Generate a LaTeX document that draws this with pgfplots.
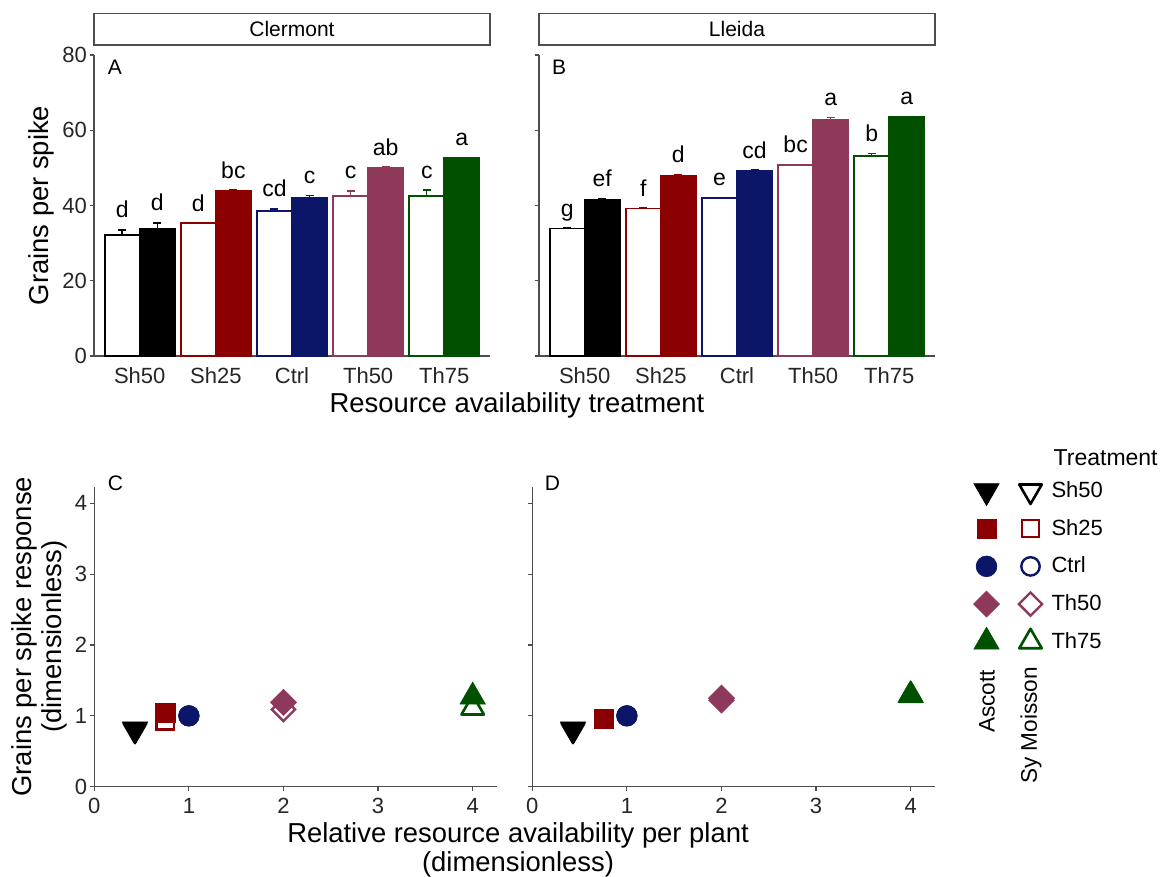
\documentclass[border=0pt]{standalone}
\usepackage{fontspec}
\setmainfont{Liberation Sans}
\usepackage{pgfplots}
\pgfplotsset{compat=1.18}

\definecolor{cSh50}{HTML}{000000}
\definecolor{cSh25}{HTML}{8B0000}
\definecolor{cCtrl}{HTML}{0B1668}
\definecolor{cTh50}{HTML}{8E385C}
\definecolor{cTh75}{HTML}{005000}
\definecolor{axgray}{HTML}{4D4D4D}

\newcommand{\obar}[4]{\addplot[ybar, bar width=0.46, draw=#2, fill=white, line width=0.9pt,
  error bars/.cd, y dir=plus, y explicit, error bar style={#2, line width=0.7pt},
  error mark options={rotate=90, #2, mark size=2pt, line width=0.7pt}] coordinates {(#1,#3) +- (0,#4)};}
\newcommand{\fbar}[4]{\addplot[ybar, bar width=0.46, draw=#2, fill=#2, line width=0.9pt,
  error bars/.cd, y dir=plus, y explicit, error bar style={#2, line width=0.7pt},
  error mark options={rotate=90, #2, mark size=2pt, line width=0.7pt}] coordinates {(#1,#3) +- (0,#4)};}

\pgfplotsset{
  base/.style={scale only axis, anchor=south west, axis x line*=bottom, axis y line*=left,
    axis line style={axgray, line width=0.75pt}, tick style={axgray, line width=0.6pt},
    tick align=outside, major tick length=2.2pt,
    ticklabel style={font=\fontsize{11}{13}\selectfont, text=black!85},
    yticklabel style={xshift=2.2pt},
    /pgf/number format/assume math mode=true, clip=false},
  barax/.style={base, width=198pt, height=150.5pt, xmin=-0.6, xmax=4.6, ymin=0, ymax=80,
    ytick={0,20,40,60,80}, xtick={0,1,2,3,4}, xticklabels={Sh50,Sh25,Ctrl,Th50,Th75},
    xtick style={draw=none}},
  scax/.style={base, width=201.2pt, height=150pt, xmin=0, xmax=4.254, ymin=0, ymax=4.234,
    xtick={0,1,2,3,4}, ytick={0,1,2,3,4}},
  letters/.style={only marks, mark=*, mark size=0pt, mark options={draw=none, fill=none},
    nodes near coords, point meta=explicit symbolic,
    every node near coord/.append style={anchor=base, yshift=6pt, inner sep=0pt,
      font=\fontsize{11.5}{13}\selectfont, text=black}},
  legmk/.style={legend image code/.code={\path[draw=none, fill=none] (0pt,-7.5pt) rectangle (16pt,7.5pt);
      \draw[##1] plot coordinates {(7pt,0pt)};}},
  fSh50/.style={only marks, mark=triangle*, mark size=7.3pt, mark options={rotate=180, draw=cSh50, fill=cSh50, line width=0.3pt}, legmk},
  oSh50/.style={only marks, mark=triangle, mark size=6.5pt, mark options={rotate=180, draw=cSh50, line width=1.3pt, line join=round}, legmk},
  fSh25/.style={only marks, mark=square*, mark size=4.8pt, mark options={draw=cSh25, fill=cSh25, line width=0.3pt}, legmk},
  oSh25/.style={only marks, mark=square, mark size=4.3pt, mark options={draw=cSh25, line width=1.2pt}, legmk},
  fCtrl/.style={only marks, mark=*, mark size=5.2pt, mark options={draw=cCtrl, fill=cCtrl, line width=0.3pt}, legmk},
  oCtrl/.style={only marks, mark=o, mark size=4.6pt, mark options={draw=cCtrl, line width=1.2pt}, legmk},
  fTh50/.style={only marks, mark=square*, mark size=4.6pt, mark options={rotate=45, draw=cTh50, fill=cTh50, line width=0.3pt}, legmk},
  oTh50/.style={only marks, mark=square, mark size=4.1pt, mark options={rotate=45, draw=cTh50, line width=1.2pt}, legmk},
  fTh75/.style={only marks, mark=triangle*, mark size=7.3pt, mark options={draw=cTh75, fill=cTh75, line width=0.3pt}, legmk},
  oTh75/.style={only marks, mark=triangle, mark size=6.5pt, mark options={draw=cTh75, line width=1.3pt, line join=round}, legmk},
}

\begin{document}
\begin{tikzpicture}[x=1pt,y=1pt]
\useasboundingbox (0,0) rectangle (582,438.5);

% ---------- Panel A: Clermont ----------
\begin{axis}[barax, at={(47pt,260.5pt)}]
\obar{-0.23}{cSh50}{32.2}{1.3}
\fbar{0.23}{cSh50}{33.8}{1.6}
\obar{0.77}{cSh25}{35.3}{0.0}
\fbar{1.23}{cSh25}{43.9}{0.2}
\obar{1.77}{cCtrl}{38.5}{0.6}
\fbar{2.23}{cCtrl}{41.9}{0.7}
\obar{2.77}{cTh50}{42.6}{1.3}
\fbar{3.23}{cTh50}{49.9}{0.3}
\obar{3.77}{cTh75}{42.6}{1.5}
\fbar{4.23}{cTh75}{52.6}{0.2}
\addplot[letters] coordinates {(-0.23,33.5) [d] (0.23,35.4) [d] (0.77,35.3) [d] (1.23,44.1) [bc]
  (1.77,39.1) [cd] (2.23,42.6) [c] (2.77,43.9) [c] (3.23,50.2) [ab] (3.77,44.1) [c] (4.23,52.8) [a]};
\end{axis}

% ---------- Panel B: Lleida ----------
\begin{axis}[barax, at={(269.5pt,260.5pt)}, yticklabels={}]
\obar{-0.23}{cSh50}{33.9}{0.1}
\fbar{0.23}{cSh50}{41.6}{0.3}
\obar{0.77}{cSh25}{39.2}{0.1}
\fbar{1.23}{cSh25}{48.0}{0.3}
\obar{1.77}{cCtrl}{41.9}{0.2}
\fbar{2.23}{cCtrl}{49.3}{0.1}
\obar{2.77}{cTh50}{50.7}{0.2}
\fbar{3.23}{cTh50}{62.7}{0.7}
\obar{3.77}{cTh75}{53.2}{0.6}
\fbar{4.23}{cTh75}{63.5}{0.1}
\addplot[letters] coordinates {(-0.23,34.0) [g] (0.23,41.9) [ef] (0.77,39.3) [f] (1.23,48.3) [d]
  (1.77,42.1) [e] (2.23,49.4) [cd] (2.77,50.9) [bc] (3.23,63.4) [a] (3.77,53.8) [b] (4.23,63.6) [a]};
\end{axis}

% ---------- Panel C ----------
\begin{axis}[scax, at={(47.15pt,45.15pt)}]
\addplot[forget plot, fSh50] coordinates {(0.43,0.81)};
\addplot[forget plot, oSh50] coordinates {(0.43,0.80)};
\addplot[forget plot, fSh25] coordinates {(0.75,1.04)};
\addplot[forget plot, oSh25] coordinates {(0.75,0.93)};
\addplot[forget plot, fCtrl] coordinates {(1,1.00)};
\addplot[forget plot, oCtrl] coordinates {(1,1.00)};
\addplot[forget plot, fTh50] coordinates {(2,1.19)};
\addplot[forget plot, oTh50] coordinates {(2,1.09)};
\addplot[forget plot, fTh75] coordinates {(4,1.27)};
\addplot[forget plot, oTh75] coordinates {(4,1.11)};
\end{axis}

% ---------- Panel D ----------
\begin{axis}[scax, at={(266.15pt,45.15pt)}, yticklabels={},
  legend columns=2, legend cell align=left,
  legend style={at={(1.093,1.037)}, anchor=north west, draw=none, fill=none, inner sep=0pt,
    row sep=3.85pt, nodes={inner sep=1.5pt}, font=\fontsize{11}{13}\selectfont,
    /tikz/every even column/.append style={column sep=3pt}}]
\addplot[fSh50] coordinates {(0.43,0.81)}; \addlegendentry{\mbox{}}
\addplot[oSh50] coordinates {(0.43,0.80)}; \addlegendentry{Sh50}
\addplot[fSh25] coordinates {(0.76,0.96)}; \addlegendentry{\mbox{}}
\addplot[oSh25] coordinates {(0.76,0.95)}; \addlegendentry{Sh25}
\addplot[fCtrl] coordinates {(1,1.00)}; \addlegendentry{\mbox{}}
\addplot[oCtrl] coordinates {(1,1.00)}; \addlegendentry{Ctrl}
\addplot[fTh50] coordinates {(2,1.25)}; \addlegendentry{\mbox{}}
\addplot[oTh50] coordinates {(2,1.22)}; \addlegendentry{Th50}
\addplot[fTh75] coordinates {(4,1.29)}; \addlegendentry{\mbox{}}
\addplot[oTh75] coordinates {(4,1.29)}; \addlegendentry{Th75}
\end{axis}

% ---------- strips ----------
\draw[axgray, line width=0.7pt, fill=white] (47,416) rectangle (245,431.85);
\node[font=\fontsize{10.5}{12}\selectfont] at (146,424) {Clermont};
\draw[axgray, line width=0.7pt, fill=white] (269.5,416) rectangle (467.5,431.85);
\node[font=\fontsize{10.5}{12}\selectfont] at (368.5,424) {Lleida};

% ---------- panel letters ----------
\node[font=\fontsize{10.5}{12}\selectfont] at (57.5,405) {A};
\node[font=\fontsize{10.5}{12}\selectfont] at (279.5,405) {B};
\node[font=\fontsize{10.5}{12}\selectfont] at (57.75,197) {C};
\node[font=\fontsize{10.5}{12}\selectfont] at (276.25,197) {D};

% ---------- axis titles ----------
\node[rotate=90, font=\fontsize{13.7}{15}\selectfont] at (20.5,335.75) {Grains per spike};
\node[font=\fontsize{13.7}{15}\selectfont] at (258.5,236) {Resource availability treatment};
\node[rotate=90, align=center, font=\fontsize{13.7}{15}\selectfont] at (19.5,120.15) {Grains per spike response\\(dimensionless)};
\node[align=center, font=\fontsize{13.7}{14.5}\selectfont] at (259,13.4) {Relative resource availability per plant\\(dimensionless)};

% ---------- legend titles ----------
\node[anchor=west, font=\fontsize{11.5}{13}\selectfont] at (523.3,209.5) {Treatment};
\node[rotate=90, anchor=east, font=\fontsize{11.3}{13}\selectfont] at (493.5,107) {Ascott};
\node[rotate=90, anchor=east, font=\fontsize{11.3}{13}\selectfont] at (515.5,108.5) {Sy Moisson};
\end{tikzpicture}
\end{document}
